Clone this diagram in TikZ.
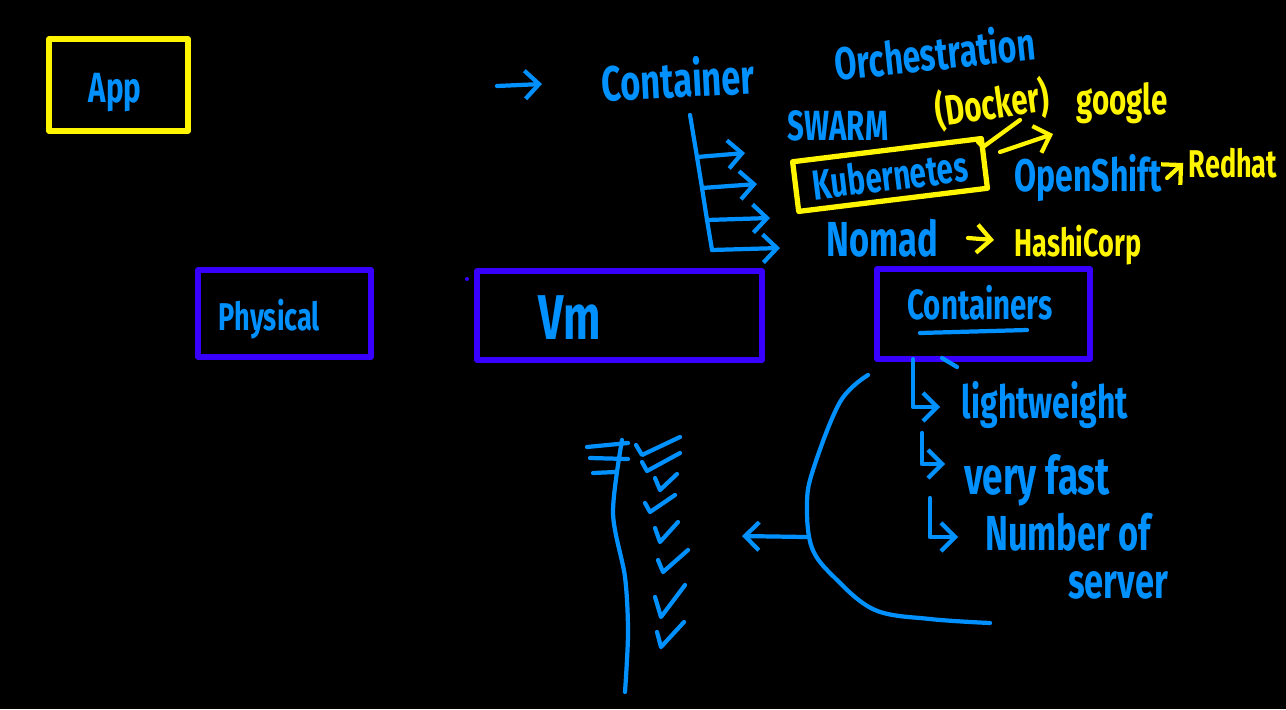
\documentclass[tikz,border=0pt]{standalone}
\usepackage{fontspec}
\newfontfamily\handfont{Fira Sans}[FakeStretch=0.7]
\usetikzlibrary{positioning,arrows.meta}
\definecolor{inkblue}{RGB}{0,145,255}
\definecolor{inkyellow}{RGB}{255,245,0}
\definecolor{inkviolet}{RGB}{55,0,255}
\newcommand{\inkfont}[1]{\handfont\bfseries\fontsize{#1}{#1}\selectfont}

\begin{document}
\begin{tikzpicture}[
    x=0.01cm, y=-0.01cm,
    >={Straight Barb[length=4pt,width=8pt]},
    line width=1.2pt,
    line cap=round,
    line join=round
]


\tikzstyle{layer}=[
    draw=inkviolet,
    line width=1.5pt,
    inner sep=0pt
]
\tikzstyle{yellowbox}=[
    draw=inkyellow,
    line width=1.5pt,
    inner sep=0pt
]
\tikzstyle{inktext}=[text=inkblue, inner sep=1pt]
\tikzstyle{marktext}=[text=inkyellow, inner sep=1pt]
\tikzstyle{pen}=[draw=inkblue]
\tikzstyle{marker}=[draw=inkyellow]


\fill[black] (0,0) rectangle (1286,709);
\useasboundingbox (0,0) rectangle (1286,709);


% app and the three layers
\node[yellowbox, minimum width=1.39cm, minimum height=0.92cm] (app) at (118.5,85) {};
\node[inktext, font=\inkfont{12}] (applbl) at (115,93) {App};

\node[layer, minimum width=1.73cm, minimum height=0.87cm] (phys) at (284.5,313.5) {};
\node[inktext, font=\inkfont{11}, right=0.18cm of phys.west, yshift=-0.06cm] (physlbl) {Physical};

\node[layer, minimum width=2.85cm, minimum height=0.89cm] (vm) at (619.5,315.5) {};
\node[inktext, font=\inkfont{18}] (vmlbl) at (570,318) {Vm};
\fill[inkviolet] (467,279) circle (2);

\node[layer, minimum width=2.13cm, minimum height=0.90cm] (cont) at (983.5,314) {};
\node[inktext, font=\inkfont{12}] (contlbl) at (980,303) {Containers};
\coordinate (ul1) at (920,333);
\coordinate (ul2) at (1027,330);
\draw[pen] (ul1) -- (ul2);


% orchestration heading
\node[inktext, font=\inkfont{14}, rotate=3] (contword) at (678,78) {Container};
\node[inktext, font=\inkfont{13}, rotate=6] (orch) at (935,52) {Orchestration};
\coordinate (headtail) at (497,86);
\coordinate (headtip) at (542,84);
\draw[pen,->] (headtail) -- (headtip);


% orchestrators
\node[inktext, font=\inkfont{12}] (swarm) at (838,126) {SWARM};
\node[yellowbox, inktext, rotate=7, minimum width=1.9cm, minimum height=0.5cm, font=\inkfont{12}] (kube) at (890,175) {Kubernetes};
\node[inktext, font=\inkfont{14}] (nomad) at (882,238) {Nomad};

\coordinate (trunktop) at (690,115);
\coordinate (b1) at (697,157);
\coordinate (b2) at (702,188);
\coordinate (b3) at (707,220);
\coordinate (b4) at (712,250);
\coordinate (e1) at (745,153);
\coordinate (e2) at (757,184);
\coordinate (e3) at (770,218);
\coordinate (e4) at (780,248);
\draw[pen] (trunktop) -- (b1) -- (b2) -- (b3) -- (b4);
\foreach \i in {1,...,4}
    \draw[pen,->] (b\i) -- (e\i);


% vendors
\node[marktext, font=\inkfont{12}, rotate=8] (docker) at (992,104) {(Docker)};
\node[marktext, font=\inkfont{12}] (google) at (1122,103) {google};
\node[inktext, font=\inkfont{13}] (openshift) at (1088,178) {OpenShift};
\node[marktext, font=\inkfont{11}] (redhat) at (1233,163) {Redhat};
\node[marktext, font=\inkfont{11}] (hashi) at (1078,245) {HashiCorp};

\draw[marker] (978,142) -- (983,147) -- (1020,120);
\coordinate (gtail) at (1000,152);
\coordinate (gtip) at (1053,134);
\draw[marker,->] (gtail) -- (gtip);
\draw[marker,->] (openshift.east) -- (redhat.west);
\coordinate (ntail) at (968,238);
\coordinate (ntip) at (994,240);
\draw[marker,->] (ntail) -- (ntip);


% container properties
\node[inktext, font=\inkfont{13}] (light) at (1045,405) {lightweight};
\node[inktext, font=\inkfont{15}] (fast) at (1037,480) {very fast};
\node[inktext, font=\inkfont{14}] (number) at (1068,532) {Number of};
\node[inktext, font=\inkfont{14}] (server) at (1118,585) {server};

\coordinate (h1) at (913,359);
\coordinate (h2) at (922,433);
\coordinate (h3) at (930,498);
\coordinate (k1) at (940,407);
\coordinate (k2) at (945,464);
\coordinate (k3) at (958,537);
\foreach \i in {1,2,3}
    \draw[pen,->] (h\i) |- (k\i);
\draw[pen] (942,358) -- (957,367);


% brace and check list
\draw[pen] plot[smooth, tension=0.6] coordinates {(868,375) (840,402) (813,470) (807,505) (812,548) (835,578) (875,610) (930,619) (990,623)};
\coordinate (bracemid) at (806,537);
\coordinate (listtip) at (742,536);
\draw[pen,->] (bracemid) -- (listtip);

\draw[pen] plot[smooth] coordinates {(622,440) (613,513) (625,577) (628,633) (625,692)};
\draw[pen] (587,447) -- (628,443);
\draw[pen] (590,458) -- (628,459);
\draw[pen] (593,473) -- (615,472);
\foreach \ax/\ay/\bx/\by/\cx/\cy in {
    636/445/642/455/680/437,
    642/462/647/471/680/453,
    655/478/660/490/677/474,
    645/503/650/512/675/495,
    655/528/660/542/678/522,
    658/560/663/572/688/550,
    655/597/661/617/685/585,
    657/632/661/647/684/622}
    \draw[pen] (\ax,\ay) -- (\bx,\by) -- (\cx,\cy);

\end{tikzpicture}
\end{document}
